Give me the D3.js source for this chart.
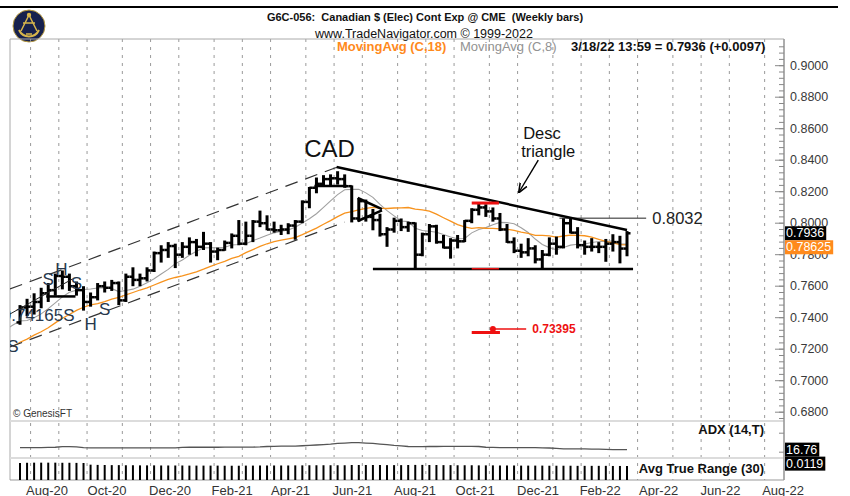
<!DOCTYPE html>
<html>
<head>
<meta charset="utf-8">
<script src="https://cdn.jsdelivr.net/npm/d3@7"></script>
<style>
html, body { margin: 0; padding: 0; background: #fff; }
svg { display: block; font-family: "Liberation Sans", Arial, sans-serif; }
</style>
</head>
<body>
<svg id="chart" width="850" height="496"></svg>
<script>
const parse = d3.timeParse("%Y-%m-%d")

// weekly bars, Friday closes, 2020-07-24 .. 2022-03-18
const firstBar = parse("2020-07-24")
const lastBar  = parse("2022-03-18")

const opens = [
  .7370,.7465,.7470,.7500,.7555,.7575,.7665,.7660,.7600,.7575,
  .7500,.7530,.7600,.7590,.7620,.7510,.7660,.7640,.7650,.7700,
  .7810,.7830,.7855,.7800,.7850,.7880,.7850,.7870,.7820,.7830,
  .7875,.7920,.7870,.7920,.8010,.8000,.7960,.7955,.7960,.7985,
  .8010,.8135,.8225,.8250,.8280,.8285,.8280,.8235,.8030,.8140,
  .8040,.8020,.7930,.7960,.8015,.7975,.8000,.7800,.7930,.7980,
  .7880,.7845,.7890,.7885,.8015,.8085,.8100,.8075,.8030,.7960,
  .7880,.7825,.7815,.7840,.7770,.7800,.7870,.7850,.8000,.7940,
  .7860,.7850,.7850,.7850,.7870,.7880,.7839 ]
const highs = [
  .7480,.7520,.7555,.7590,.7620,.7680,.7700,.7680,.7630,.7600,
  .7560,.7620,.7630,.7640,.7630,.7680,.7720,.7680,.7720,.7820,
  .7860,.7880,.7870,.7880,.7910,.7900,.7945,.7880,.7845,.7890,
  .7935,.8020,.8010,.8020,.8080,.8050,.8010,.7990,.8000,.8020,
  .8145,.8230,.8290,.8305,.8310,.8330,.8310,.8240,.8160,.8150,
  .8090,.8060,.7975,.8035,.8030,.8010,.8005,.7940,.7995,.7990,
  .7925,.7905,.7925,.8020,.8095,.8125,.8120,.8100,.8065,.7995,
  .7910,.7870,.7905,.7860,.7830,.7910,.7915,.8032,.8030,.7975,
  .7890,.7905,.7880,.7900,.7930,.7920,.7950 ]
const lows = [
  .7355,.7410,.7420,.7460,.7500,.7540,.7580,.7570,.7540,.7445,
  .7470,.7510,.7560,.7570,.7480,.7500,.7600,.7600,.7630,.7690,
  .7750,.7780,.7715,.7780,.7800,.7790,.7830,.7750,.7765,.7825,
  .7840,.7860,.7860,.7880,.7975,.7955,.7940,.7925,.7930,.7895,
  .8000,.8095,.8190,.8235,.8240,.8245,.8225,.8005,.8010,.8010,
  .7955,.7915,.7850,.7940,.7950,.7945,.7710,.7790,.7880,.7870,
  .7840,.7775,.7840,.7880,.8000,.8050,.8040,.8010,.7950,.7875,
  .7810,.7780,.7790,.7745,.7710,.7790,.7800,.7840,.7935,.7840,
  .7800,.7820,.7810,.7755,.7820,.7745,.7790 ]
const closes = [
  .7465,.7470,.7500,.7555,.7575,.7665,.7660,.7600,.7575,.7500,
  .7530,.7600,.7590,.7620,.7510,.7660,.7640,.7650,.7700,.7810,
  .7830,.7855,.7800,.7850,.7880,.7850,.7870,.7820,.7830,.7875,
  .7920,.7870,.7920,.8010,.8000,.7960,.7955,.7960,.7985,.8010,
  .8135,.8225,.8250,.8280,.8285,.8280,.8235,.8030,.8140,.8040,
  .8020,.7930,.7960,.8015,.7975,.8000,.7800,.7930,.7980,.7880,
  .7845,.7890,.7885,.8015,.8085,.8100,.8075,.8030,.7960,.7880,
  .7825,.7815,.7840,.7770,.7800,.7870,.7850,.8000,.7940,.7860,
  .7850,.7850,.7850,.7870,.7880,.7839,.7936 ]

// closes of the 18 weeks before the first bar (moving average warm-up)
const priorCloses = [ .6970,.7115,.7045,.7165,.7125,.7100,.7130,.7180,.7105,
                      .7135,.7260,.7445,.7360,.7360,.7310,.7370,.7360,.7365 ]

const adx = [
  22,22,22,22,22.5,23,24.5,24.5,24,22,
  21.5,21.5,21.5,21.5,21.5,21.5,21.5,21.5,21.5,21.5,
  21.5,21.5,21.5,22.5,23,23,23,23,23,23.5,
  23.5,23.5,23.5,23.5,24,25,25.5,26,26,26,
  27,28,29,30,31,33,34,35,35,34,
  33,31.5,30,28,26.5,25,24.5,24.5,25,25,
  25.5,25.5,25.5,25.5,25.5,25,23,22.5,22,22,
  22,22,22,22,21.5,21,20,19,18.5,18.5,
  18.5,18,18,17.5,17,17,16.76 ]
const atr = [
  .0145,.0146,.0147,.0147,.0147,.0147,.0146,.0146,.0145,.0144,
  .0130,.0128,.0127,.0126,.0126,.0125,.0125,.0124,.0124,.0124,
  .0123,.0123,.0123,.0123,.0122,.0122,.0122,.0122,.0122,.0121,
  .0121,.0121,.0122,.0122,.0123,.0123,.0123,.0123,.0123,.0124,
  .0124,.0125,.0125,.0125,.0125,.0125,.0125,.0127,.0127,.0127,
  .0127,.0127,.0126,.0126,.0126,.0127,.0128,.0128,.0127,.0127,
  .0126,.0126,.0125,.0125,.0125,.0124,.0124,.0124,.0123,.0123,
  .0123,.0122,.0122,.0122,.0122,.0121,.0121,.0121,.0121,.0120,
  .0120,.0120,.0120,.0120,.0119,.0119,.0119 ]

const priceTicks = [0.68,0.70,0.72,0.74,0.76,0.78,0.80,0.82,0.84,0.86,0.88,0.90]
const monthLabels = ["Aug-20","Oct-20","Dec-20","Feb-21","Apr-21","Jun-21",
                     "Aug-21","Oct-21","Dec-21","Feb-22","Apr-22","Jun-22","Aug-22"]

// drawn studies, [date, price, date, price]
const thickLines = [
  ["2021-06-03",0.8357,"2022-03-18",0.7957],
  ["2021-07-09",0.7709,"2022-03-24",0.7709],
  ["2021-05-12",0.8236,"2021-06-13",0.8236],
  ["2021-06-24",0.8160,"2021-07-18",0.8090],
  ["2021-06-24",0.8014,"2021-07-18",0.8082],
  ["2020-08-19",0.7535,"2020-09-17",0.7535] ]
const thinLines = [
  ["2020-07-14",0.7423,"2020-09-14",0.7646],
  ["2022-01-10",0.8032,"2022-04-06",0.8032] ]
const channelLines = [
  ["2020-07-14",0.7582,"2021-06-04",0.8357],
  ["2020-07-14",0.7214,"2021-06-11",0.8007] ]
const redThickLines = [
  ["2021-10-15",0.8128,"2021-11-11",0.8128],
  ["2021-10-15",0.7306,"2021-11-12",0.7306] ]
const redThinLines = [
  ["2021-10-15",0.7711,"2021-11-11",0.7711],
  ["2021-11-05",0.7328,"2021-12-08",0.7328] ]
const redDots = [["2021-11-05",0.7328]]
const patternLabels = [
  ["S","2020-08-21",0.7640],["H","2020-09-03",0.7703],["S","2020-09-18",0.7620],
  ["0.74165S","2020-08-11",0.7417],["H","2020-10-02",0.7354],["S","2020-10-16",0.7449],
  ["S","2020-07-17",0.7214] ]
const arrowLines = [["2021-12-20",0.8401,"2021-12-01",0.8198]]

// ---------------------------------------------------------------
const pLeft = 10, pRight = 784, pTop = 39
const priceBottom = 421, adxBottom = 458, pBottom = 480

const weeks = d3.timeFriday.range(firstBar, d3.timeDay.offset(lastBar, 1))
const x = d3.scaleTime().domain([firstBar, lastBar]).range([20, 627])
const y = d3.scaleLinear().domain([0.68, 0.90]).range([412.2, 65.7])
const yAdx = d3.scaleLinear().domain([0, 100]).range([456, 418])
const yAtr = d3.scaleLinear().domain([0, 0.05]).range([480, 421])

const svg = d3.select("#chart")
svg.append("rect").attr("width", 850).attr("height", 496).attr("fill", "#fff")

const defs = svg.append("defs")
defs.append("clipPath").attr("id", "price-clip")
    .append("rect").attr("x", pLeft).attr("y", pTop)
    .attr("width", pRight - pLeft).attr("height", priceBottom - pTop)
defs.append("marker").attr("id", "arrow")
    .attr("viewBox", "0 0 10 10").attr("refX", 9).attr("refY", 5)
    .attr("markerWidth", 7).attr("markerHeight", 7).attr("orient", "auto")
    .append("path").attr("d", "M0,1 L10,5 L0,9").attr("fill", "none")
    .attr("stroke", "#000").attr("stroke-width", 1.6)

// header
svg.append("line").attr("x1", 0).attr("x2", 838).attr("y1", 7).attr("y2", 7)
    .attr("stroke", "#000").attr("stroke-width", 2)

const logo = svg.append("g").attr("transform", "translate(29,26)")
logo.append("circle").attr("r", 16).attr("fill", "#17214d").attr("stroke", "#b89a3e")
logo.append("path").attr("d", "M-10,4 A11,11 0 0 0 10,4").attr("fill", "none")
    .attr("stroke", "#d8b64c").attr("stroke-width", 2)
logo.append("path").attr("d", "M0,-11 L-8,5 M0,-11 L8,5 M-6,-3 L6,-3 M-3,8 L3,8")
    .attr("stroke", "#d8b64c").attr("stroke-width", 1.5)
logo.append("circle").attr("cy", -11).attr("r", 2.2).attr("fill", "#d8b64c")

svg.append("text").attr("x", 425).attr("y", 21).attr("text-anchor", "middle")
    .style("white-space", "pre").attr("font-size", 11).attr("font-weight", "bold")
    .attr("fill", "#111")
    .text("G6C-056:  Canadian $ (Elec) Cont Exp @ CME  (Weekly bars)")
svg.append("text").attr("x", 424).attr("y", 37.5).attr("text-anchor", "middle")
    .attr("font-size", 12.5).attr("fill", "#111")
    .text("www.TradeNavigator.com \u00a9 1999-2022")

// month grid: halfway between the last bar of a month and the first of the next
const months = d3.timeMonth.range(parse("2020-08-01"), parse("2022-09-01"))
const gridX = months.map(m => {
    const f1 = d3.timeFriday.ceil(m)
    const f0 = d3.timeFriday.offset(f1, -1)
    return (x(f0) + x(f1)) / 2
}).filter(v => v > pLeft && v < pRight)

svg.append("g").selectAll("line").data(gridX).enter().append("line")
    .attr("x1", d => d).attr("x2", d => d).attr("y1", pTop).attr("y2", pBottom)
    .attr("stroke", "#9a9a9a").attr("stroke-width", 1).attr("stroke-dasharray", "3,5")

// panel frames
svg.append("line").attr("x1", pLeft).attr("x2", pRight).attr("y1", pTop).attr("y2", pTop)
    .attr("stroke", "#aaa")
svg.append("line").attr("x1", pLeft).attr("x2", pLeft).attr("y1", pTop).attr("y2", pBottom)
    .attr("stroke", "#aaa")
;[priceBottom, adxBottom].forEach(v => {
    svg.append("line").attr("x1", pLeft).attr("x2", pRight).attr("y1", v).attr("y2", v)
        .attr("stroke", "#dcdcdc").attr("stroke-width", 2)
})
svg.append("line").attr("x1", pLeft).attr("x2", pRight).attr("y1", pBottom).attr("y2", pBottom)
    .attr("stroke", "#999")

// price panel
const pricePanel = svg.append("g").attr("clip-path", "url(#price-clip)")

const allCloses = priorCloses.concat(closes)
const allWeeks = d3.timeFriday.range(d3.timeFriday.offset(firstBar, -priorCloses.length),
                                     d3.timeDay.offset(lastBar, 1))
const movingAvg = n => allCloses.map((c, i) =>
    i < n - 1 ? null : d3.mean(allCloses.slice(i - n + 1, i + 1)))
const ma18 = movingAvg(18)
const ma8 = movingAvg(8)

const maLine = d3.line()
    .defined(d => d[1] != null)
    .x(d => x(d[0])).y(d => y(d[1]))

pricePanel.append("path").datum(allWeeks.map((w, i) => [w, ma8[i]]))
    .attr("d", maLine).attr("fill", "none").attr("stroke", "#a0a0a0").attr("stroke-width", 1.1)
pricePanel.append("path").datum(allWeeks.map((w, i) => [w, ma18[i]]))
    .attr("d", maLine).attr("fill", "none").attr("stroke", "#f7931e").attr("stroke-width", 1.3)

const bars = pricePanel.append("g").selectAll("g").data(weeks).enter().append("g")
bars.append("line")
    .attr("x1", d => x(d)).attr("x2", d => x(d))
    .attr("y1", (d, i) => y(highs[i])).attr("y2", (d, i) => y(lows[i]))
    .attr("stroke", "#000").attr("stroke-width", 3)
bars.append("line")
    .attr("x1", d => x(d) - 3.5).attr("x2", d => x(d))
    .attr("y1", (d, i) => y(opens[i])).attr("y2", (d, i) => y(opens[i]))
    .attr("stroke", "#000").attr("stroke-width", 2.5)
bars.append("line")
    .attr("x1", d => x(d)).attr("x2", d => x(d) + 3.5)
    .attr("y1", (d, i) => y(closes[i])).attr("y2", (d, i) => y(closes[i]))
    .attr("stroke", "#000").attr("stroke-width", 2.5)

// drawn studies
const seg = (g, data, stroke, width, dash) => g.append("g").selectAll("line").data(data)
    .enter().append("line")
    .attr("x1", d => x(parse(d[0]))).attr("y1", d => y(d[1]))
    .attr("x2", d => x(parse(d[2]))).attr("y2", d => y(d[3]))
    .attr("stroke", stroke).attr("stroke-width", width)
    .attr("stroke-dasharray", dash || null)

seg(pricePanel, channelLines, "#333", 1.2, "13,8")
seg(pricePanel, thinLines, "#222", 1)
seg(pricePanel, thickLines, "#000", 2.5)
seg(pricePanel, redThickLines, "#ee1111", 3)
seg(pricePanel, redThinLines, "#ee1111", 1.5)
seg(pricePanel, arrowLines, "#000", 1.4).attr("marker-end", "url(#arrow)")

pricePanel.append("g").selectAll("circle").data(redDots).enter().append("circle")
    .attr("cx", d => x(parse(d[0]))).attr("cy", d => y(d[1])).attr("r", 3)
    .attr("fill", "#ee1111")

pricePanel.append("g").selectAll("text").data(patternLabels).enter().append("text")
    .attr("x", d => x(parse(d[1]))).attr("y", d => y(d[2]))
    .attr("text-anchor", "middle").attr("dominant-baseline", "central")
    .attr("font-size", 17).attr("fill", "#27384d")
    .text(d => d[0])

const note = (txt, date, price, size, opts = {}) => pricePanel.append("text")
    .attr("x", x(parse(date))).attr("y", y(price))
    .attr("dominant-baseline", "central")
    .attr("text-anchor", opts.anchor || "start")
    .attr("font-size", size).attr("font-weight", opts.weight || "normal")
    .attr("fill", opts.fill || "#111").text(txt)

note("CAD", "2021-05-27", 0.8477, 24, { anchor: "middle" })
note("Desc", "2021-12-05", 0.8572, 16.5)
note("triangle", "2021-12-03", 0.8458, 16.5)
note("0.8032", "2022-04-12", 0.8032, 16.5, { fill: "#222" })
note("0.73395", "2021-12-14", 0.7328, 12, { weight: "bold", fill: "#ee1111" })

svg.append("text").attr("x", 13).attr("y", 417).attr("font-size", 10)
    .attr("fill", "#333").text("\u00a9 GenesisFT")

// legend row
svg.append("text").attr("x", 337).attr("y", 51).attr("font-size", 13)
    .attr("font-weight", "bold").attr("fill", "#ff8a1c").text("MovingAvg (C,18)")
svg.append("text").attr("x", 460).attr("y", 51).attr("font-size", 13)
    .attr("fill", "#929292").text("MovingAvg (C,8)")
svg.append("text").attr("x", 571).attr("y", 51).attr("font-size", 13)
    .attr("font-weight", "bold").attr("fill", "#111")
    .text("3/18/22 13:59 = 0.7936 (+0.0097)")

// ADX panel
svg.append("path").datum(weeks.map((w, i) => [w, adx[i]]))
    .attr("d", d3.line().x(d => x(d[0])).y(d => yAdx(d[1])))
    .attr("fill", "none").attr("stroke", "#555").attr("stroke-width", 1.3)
svg.append("text").attr("x", 764).attr("y", 433.5).attr("text-anchor", "end")
    .attr("font-size", 13).attr("font-weight", "bold").attr("fill", "#111").text("ADX (14,T)")

// ATR panel
svg.append("g").selectAll("line").data(weeks).enter().append("line")
    .attr("x1", d => x(d)).attr("x2", d => x(d))
    .attr("y1", yAtr(0)).attr("y2", (d, i) => yAtr(atr[i]))
    .attr("stroke", "#000").attr("stroke-width", 2)
svg.append("text").attr("x", 764).attr("y", 472.5).attr("text-anchor", "end")
    .attr("font-size", 13).attr("font-weight", "bold").attr("fill", "#111")
    .text("Avg True Range (30)")

// right price axis
const axis = svg.append("g")
axis.append("line").attr("x1", pRight).attr("x2", pRight).attr("y1", pTop).attr("y2", pBottom)
    .attr("stroke", "#999").attr("stroke-width", 1.6)
const minor = d3.range(0.676, 0.9125, 0.004)
axis.selectAll(".minor").data(minor).enter().append("line")
    .attr("x1", pRight - 5).attr("x2", pRight).attr("y1", d => y(d)).attr("y2", d => y(d))
    .attr("stroke", "#888")
axis.selectAll(".major").data(priceTicks).enter().append("line")
    .attr("x1", pRight - 9).attr("x2", pRight).attr("y1", d => y(d)).attr("y2", d => y(d))
    .attr("stroke", "#888")
axis.selectAll("text").data(priceTicks).enter().append("text")
    .attr("x", 790).attr("y", d => y(d)).attr("dominant-baseline", "central")
    .attr("font-size", 12.5).attr("fill", "#3a3a3a").text(d => d.toFixed(4))
;[10, 60].forEach(v => {
    axis.append("line").attr("x1", pRight - 5).attr("x2", pRight)
        .attr("y1", yAdx(v)).attr("y2", yAdx(v)).attr("stroke", "#888")
})

// value flags on the axis, sized to their text
const flag = (txt, yc, bg) => {
    const r = svg.append("rect").attr("x", pRight + 1).attr("y", yc - 7).attr("height", 14)
        .attr("fill", bg)
    const t = svg.append("text").attr("x", pRight + 2).attr("y", yc)
        .attr("dominant-baseline", "central")
        .attr("font-size", 12.5).attr("fill", "#fff").text(txt)
    r.attr("width", t.node().getComputedTextLength() + 3)
}
const lastY = y(closes[closes.length - 1])
flag(closes[closes.length - 1].toFixed(4), lastY, "#000")
flag(ma18[ma18.length - 1].toFixed(5), Math.max(y(ma18[ma18.length - 1]), lastY + 14), "#ff8a1c")
const adxY = yAdx(adx[adx.length - 1])
flag(adx[adx.length - 1].toFixed(2), adxY, "#000")
flag(atr[atr.length - 1].toFixed(4), adxY + 14, "#000")

// month labels
svg.append("g").selectAll("text").data(monthLabels).enter().append("text")
    .attr("x", d => x(d3.timeParse("%b-%y")(d)) - 2).attr("y", 494.5)
    .attr("font-size", 13).attr("fill", "#333").text(d => d)
</script>
</body>
</html>
